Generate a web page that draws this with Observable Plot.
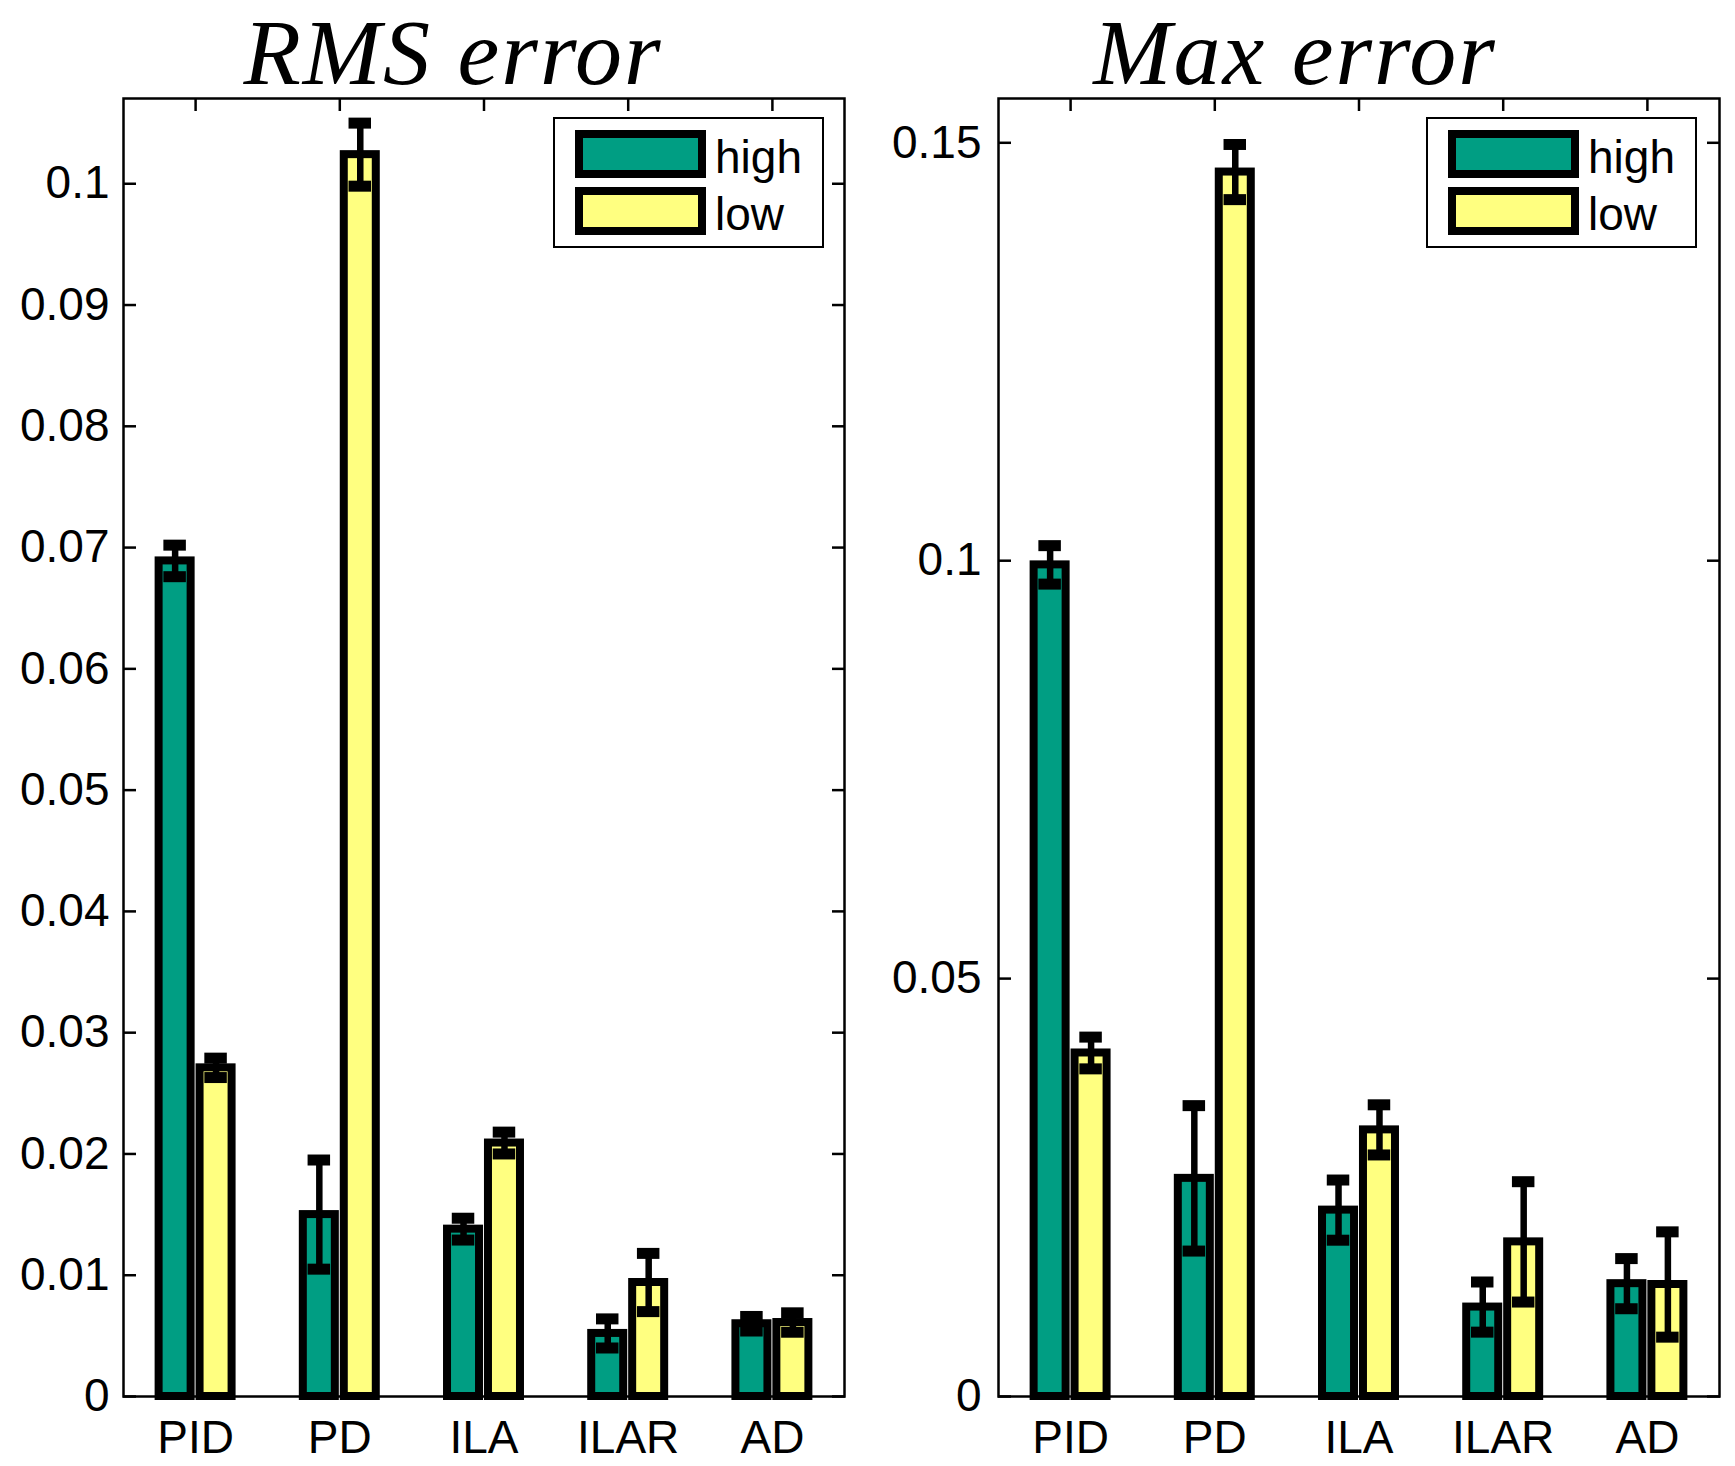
<!DOCTYPE html>
<html>
<head>
<meta charset="utf-8">
<script src="https://cdn.jsdelivr.net/npm/d3@7"></script>
<script src="https://cdn.jsdelivr.net/npm/@observablehq/plot@0.6"></script>
<style>
  html, body { margin: 0; padding: 0; background: white; }
  #wrap { position: relative; width: 1735px; height: 1466px; overflow: hidden; background: white; }
  .panel { position: absolute; top: 0; }
  .title { position: absolute; top: 5px; width: 700px; text-align: center;
           font-family: "Liberation Serif", "Times New Roman", serif; font-style: italic;
           font-size: 94px; line-height: 94px; letter-spacing: 2px; color: black; white-space: nowrap; }
  .legend { position: absolute; box-sizing: border-box; border: 2.5px solid black; background: white;
            font-family: "Liberation Sans", Arial, sans-serif; font-size: 46px; }
  .lrow { position: absolute; left: 20px; display: flex; align-items: center; }
  .patch { box-sizing: border-box; width: 131px; height: 48px; border: 8px solid black; }
  .ltext { margin-left: 9px; line-height: 48px; position: relative; top: 3px; }
</style>
</head>
<body>
<div id="wrap"></div>
<script>
// ---- data ----
const categories = ["PID", "PD", "ILA", "ILAR", "AD"];
const series = ["high", "low"];
const seriesColors = ["#009e83", "#ffff80"];

const rmsHigh    = [0.0689, 0.0150, 0.0138, 0.0052, 0.0060];
const rmsHighErr = [0.0013, 0.0045, 0.0009, 0.0012, 0.0006];
const rmsLow     = [0.0271, 0.1024, 0.0209, 0.0094, 0.0061];
const rmsLowErr  = [0.0008, 0.0026, 0.0009, 0.0024, 0.0008];

const maxHigh    = [0.0995, 0.0261, 0.0223, 0.0107, 0.0135];
const maxHighErr = [0.0023, 0.0087, 0.0036, 0.0030, 0.0030];
const maxLow     = [0.0411, 0.1465, 0.0319, 0.0185, 0.0134];
const maxLowErr  = [0.0019, 0.0033, 0.0030, 0.0072, 0.0063];

const rmsTicks = [0, 0.01, 0.02, 0.03, 0.04, 0.05, 0.06, 0.07, 0.08, 0.09, 0.1];
const rmsTickLabels = ["0", "0.01", "0.02", "0.03", "0.04", "0.05", "0.06", "0.07", "0.08", "0.09", "0.1"];
const maxTicks = [0, 0.05, 0.1, 0.15];
const maxTickLabels = ["0", "0.05", "0.1", "0.15"];

const titles = ["RMS error", "Max error"];

// ---- layout constants ----
const offset = 0.142;   // bar centre offset from category (x units)
const barHalf = 0.111;  // half bar width (x units)
const capHalf = 0.078;  // half cap width (x units)
const positions = categories.map((c, i) => i + 1);

function rowsFrom(high, highErr, low, lowErr) {
  const rows = [];
  categories.forEach((c, i) => {
    rows.push({cat: c, series: "high", pos: i + 1 - offset, value: high[i], err: highErr[i]});
    rows.push({cat: c, series: "low", pos: i + 1 + offset, value: low[i], err: lowErr[i]});
  });
  return rows;
}

function makePanel(rows, yMax, ticks, tickLabels, cfg) {
  const caps = rows.flatMap(d => [{pos: d.pos, y: d.value - d.err}, {pos: d.pos, y: d.value + d.err}]);
  const fmt = d => tickLabels[ticks.indexOf(d)];
  return Plot.plot({
    width: cfg.width,
    height: 1466,
    marginLeft: cfg.marginLeft,
    marginRight: cfg.marginRight,
    marginTop: 98,
    marginBottom: 70,
    x: {domain: [0.5, 5.5], label: null},
    y: {domain: [0, yMax], label: null},
    color: {domain: series, range: seriesColors},
    style: {fontFamily: "'Liberation Sans', Arial, sans-serif", fontSize: "46px", background: "white", color: "black", overflow: "visible"},
    marks: [
      Plot.rect(rows, {x1: d => d.pos - barHalf, x2: d => d.pos + barHalf, y1: 0, y2: "value",
                       fill: "series", stroke: "black", strokeWidth: 8}),
      Plot.ruleX(rows, {x: "pos", y1: d => d.value - d.err, y2: d => d.value + d.err, stroke: "black", strokeWidth: 6.5}),
      Plot.ruleY(caps, {y: "y", x1: d => d.pos - capHalf, x2: d => d.pos + capHalf, stroke: "black", strokeWidth: 11}),
      Plot.frame({stroke: "black", strokeWidth: 2.5}),
      Plot.axisY(ticks, {anchor: "left", label: null, tickSize: 0, tickPadding: cfg.yPad, tickFormat: fmt, fontSize: 46}),
      Plot.axisY(ticks, {anchor: "left", label: null, tickSize: 13, dx: 13, tickFormat: () => "", strokeWidth: 2.5}),
      Plot.axisY(ticks, {anchor: "right", label: null, tickSize: 13, dx: -13, tickFormat: () => "", strokeWidth: 2.5}),
      Plot.axisX(positions, {anchor: "top", label: null, tickSize: 12, dy: 12, tickFormat: () => "", strokeWidth: 2.5}),
      Plot.axisX(positions, {anchor: "bottom", label: null, tickSize: 0, tickPadding: 24, tickFormat: d => categories[d - 1], fontSize: 46})
    ]
  });
}

const wrap = document.getElementById("wrap");

function addPanel(svg, left) {
  const div = document.createElement("div");
  div.className = "panel";
  div.style.left = left + "px";
  div.appendChild(svg);
  wrap.appendChild(div);
}

function addTitle(text, center) {
  const t = document.createElement("div");
  t.className = "title";
  t.style.left = (center - 350) + "px";
  t.textContent = text;
  wrap.appendChild(t);
}

function addLegend(left, top) {
  const lg = document.createElement("div");
  lg.className = "legend";
  lg.style.left = left + "px";
  lg.style.top = top + "px";
  lg.style.width = "271px";
  lg.style.height = "131px";
  series.forEach((s, i) => {
    const row = document.createElement("div");
    row.className = "lrow";
    row.style.top = (11 + i * 57) + "px";
    const p = document.createElement("div");
    p.className = "patch";
    p.style.background = seriesColors[i];
    const tx = document.createElement("span");
    tx.className = "ltext";
    tx.textContent = s;
    row.appendChild(p);
    row.appendChild(tx);
    lg.appendChild(row);
  });
  wrap.appendChild(lg);
}

const rmsRows = rowsFrom(rmsHigh, rmsHighErr, rmsLow, rmsLowErr);
const maxRows = rowsFrom(maxHigh, maxHighErr, maxLow, maxLowErr);

addPanel(makePanel(rmsRows, 0.10703, rmsTicks, rmsTickLabels, {width: 867, marginLeft: 123, marginRight: 23, yPad: 14}), 0);
addPanel(makePanel(maxRows, 0.1553, maxTicks, maxTickLabels, {width: 868, marginLeft: 131, marginRight: 16, yPad: 17}), 867);

addTitle(titles[0], 453);
addTitle(titles[1], 1295);
addLegend(553, 117);
addLegend(1426, 117);
</script>
</body>
</html>
